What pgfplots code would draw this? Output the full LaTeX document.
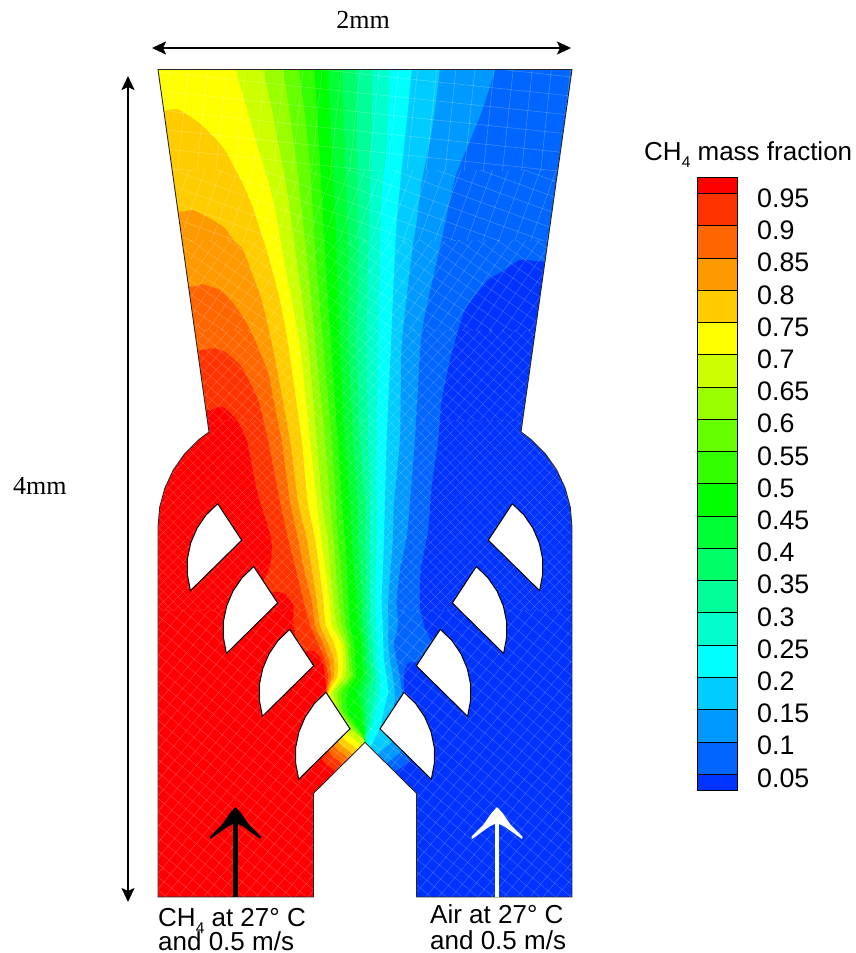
\documentclass[border=0pt]{standalone}
\usepackage{pgfplots}
\pgfplotsset{compat=1.18}
\usepackage{fontspec}
\setmainfont{Liberation Sans}
\newfontfamily\serifsf{Liberation Serif}
\usetikzlibrary{arrows.meta,patterns.meta}
\definecolor{c0}{HTML}{FF0000}\definecolor{c1}{HTML}{FF3300}\definecolor{c2}{HTML}{FF6600}
\definecolor{c3}{HTML}{FF9900}\definecolor{c4}{HTML}{FFCC00}\definecolor{c5}{HTML}{FFFF00}
\definecolor{c6}{HTML}{CCFF00}\definecolor{c7}{HTML}{99FF00}\definecolor{c8}{HTML}{66FF00}
\definecolor{c9}{HTML}{33FF00}\definecolor{c10}{HTML}{00FF00}\definecolor{c11}{HTML}{00FF33}
\definecolor{c12}{HTML}{00FF66}\definecolor{c13}{HTML}{00FF99}\definecolor{c14}{HTML}{00FFCC}
\definecolor{c15}{HTML}{00FFFF}\definecolor{c16}{HTML}{00CCFF}\definecolor{c17}{HTML}{0099FF}
\definecolor{c18}{HTML}{0066FF}\definecolor{c19}{HTML}{0033FF}
\newcommand\band[2]{\addplot[forget plot,draw=none,fill=#1,smooth,tension=0.3] coordinates {#2};}
\newcommand\cbar[2]{\addplot[forget plot,draw=black,line width=0.8pt,fill=#1] coordinates {#2} -- cycle;}
\newcommand\blade[1]{\addplot[forget plot,draw=black,line width=1pt,fill=white] coordinates {#1} -- cycle;}
\newcommand\mesh[5]{\addplot[forget plot,draw=none,opacity=0.26,pattern={Lines[angle=#1,distance=#2pt,line width=#4pt]},pattern color=white] coordinates {#5} -- cycle;
\addplot[forget plot,draw=none,opacity=0.26,pattern={Lines[angle=#3,distance=#2pt,line width=#4pt]},pattern color=white] coordinates {#5} -- cycle;}
\newcommand\lab[3]{\node[anchor=base west,inner sep=0pt,font=\fontsize{26.8}{30}\selectfont] at (axis cs:#1,#2) {#3};}
\newcommand\labb[3]{\node[anchor=base west,inner sep=0pt,font=\fontsize{26}{30}\selectfont] at (axis cs:#1,#2) {#3};}
\newcommand\subfour{\raisebox{-0.28em}{\fontsize{15.5}{16}\selectfont 4}}
\begin{document}
\begin{tikzpicture}
\useasboundingbox (0pt,0pt) rectangle (855pt,953pt);
\begin{axis}[at={(0pt,0pt)},anchor=south west,axis lines=none,scale only axis,width=855pt,height=953pt,
  xmin=0,xmax=855,ymin=0,ymax=953,y dir=reverse,clip=true]
% base band and contour boundaries, painted from left to right
\addplot[forget plot,draw=none,fill=c0] coordinates {(100,40)(700,40)(700,920)(100,920)} -- cycle;
\band{c1}{(100,410)(207.3,410)(216.7,406.7)(225,408)(236.7,420)(246.7,440)(256,486)(260,501.7)(266,520)(271.7,541.7)(271,561.7)(266.7,575)(263.3,581.7)(257,587)(269.3,591)(285,593.3)(293.3,605)(293.3,625)(295.5,634)(292,640)(303.5,650)(315,651.7)(323.3,663.3)(326,686.7)(326,692)(321.7,757.5)(336.7,772.3)(360,800)(360,920)(700,920)(700,40)(100,40)}
\band{c2}{(100,350)(199.3,350)(213,348)(225,351.7)(241.7,366.7)(258.3,400)(268,440)(280,501.7)(288,538)(296,570)(303.3,600)(310,625)(318,643.3)(325,660)(328,676.7)(326.5,693.5)(328.3,750)(343.3,765.7)(360,800)(360,920)(700,920)(700,40)(100,40)}
\band{c3}{(100,286.7)(190,286.7)(201.7,284)(220,290)(233.3,303)(246.7,323)(255,340)(268.3,373.3)(278,423)(281.7,440)(290,501.7)(298,538)(304,570)(311.7,600)(315,625)(323,643.3)(329,660)(331,676.7)(327,694.5)(334.3,745.7)(349.3,759.7)(360,800)(360,920)(700,920)(700,40)(100,40)}
\band{c4}{(100,211.7)(180,211.7)(193.3,210)(213,220)(225,228)(235,241.7)(243.3,250)(261.7,300)(273.3,350)(290,440)(298,501.7)(306.7,538)(312,570)(316.7,600)(320,625)(328,643.3)(334,660)(334,676.7)(327.5,695.5)(338.3,741.7)(353.3,755.7)(360,800)(360,920)(700,920)(700,40)(100,40)}
\band{c5}{(100,110)(165,110)(178.3,109.3)(200,123.3)(216.7,140)(225,150)(235,168.3)(245,188.3)(253.3,208.3)(261.7,235)(266.7,250)(280,300)(288.3,345)(301.7,440)(307.7,501.7)(315,538)(319.5,570)(323.3,600)(325.7,625)(334.3,643.3)(338,660)(337.5,676.7)(328,696.5)(342.7,737.3)(357.7,751.3)(360,800)(360,920)(700,920)(700,40)(100,40)}
\band{c6}{(236,40)(236,69.5)(246.7,108.3)(258.3,148.3)(268.3,181.7)(275,208.3)(282.3,250)(288.3,283)(300,345)(310,440)(316.7,501.7)(321,538)(325.5,570)(329.3,600)(331.7,625)(341,643.3)(343.3,660)(341.5,676.7)(329,698)(346.7,733.3)(361.7,747.3)(362,800)(362,920)(700,920)(700,40)}
\band{c7}{(263.3,40)(263.3,69.5)(271.7,108.3)(280,151.7)(286.7,188.3)(296,255)(308.3,345)(316.7,440)(322,501.7)(327.7,538)(330.5,570)(333.3,600)(336.7,625)(344.3,643.3)(346,660)(345.5,676.7)(334,692)(338,710)(350,729.3)(365,742.3)(365,800)(365,920)(700,920)(700,40)}
\band{c8}{(283.3,40)(283.3,69.5)(290,115)(296.7,165)(306.7,255)(315.7,345)(325,440)(330,501.7)(333.3,538)(336,570)(338.3,600)(341.7,625)(347.3,643.3)(348.3,660)(349.3,676.7)(338,692)(340,710)(353,729)(365,742.5)(365,800)(365,920)(700,920)(700,40)}
\band{c9}{(299,40)(299,69.5)(305,115)(310,165)(315.7,255)(323.3,345)(331.7,440)(336,501.7)(338,538)(341,570)(343.3,600)(346,625)(350,643.3)(351,660)(352.7,676.7)(341.7,692)(343,710)(356,729)(365,742.5)(365,800)(365,920)(700,920)(700,40)}
\band{c10}{(314.3,40)(314.3,69.5)(318.3,131.7)(325,255)(331,345)(337.7,440)(341.7,501.7)(345,538)(347,570)(348.3,600)(350,625)(354,643.3)(355,660)(356,676.7)(347.3,692)(346.7,710)(359,729)(365,742.5)(365,800)(365,920)(700,920)(700,40)}
\band{c11}{(328.3,40)(328.3,69.5)(331,131.7)(336.7,250)(340,345)(345,440)(350,501.7)(351.7,538)(354,570)(356.7,600)(358.3,625)(361.7,643.3)(361.7,660)(363.3,676.7)(356.7,692)(361,710)(363.5,729)(365,742.5)(365,800)(365,920)(700,920)(700,40)}
\band{c12}{(342.3,40)(342.3,69.5)(344.3,131.7)(348.3,250)(348.3,345)(353.3,440)(357.7,501.7)(358,538)(360,570)(361.7,600)(362.7,625)(365,643.3)(366,660)(367,676.7)(363.3,692)(364.5,710)(365,729)(365,742.5)(365,800)(365,920)(700,920)(700,40)}
\band{c13}{(356.7,40)(356.7,69.5)(356.7,131.7)(358.3,250)(356.7,345)(360,440)(365,501.7)(365,538)(365.5,570)(366,600)(366.7,625)(368.3,643.3)(369.3,660)(371.7,676.7)(368.3,692)(367,710)(366.5,729)(365,742.5)(365,800)(365,920)(700,920)(700,40)}
\band{c14}{(372.7,40)(372.7,69.5)(371.7,131.7)(370,181.7)(368.3,250)(366.7,345)(368.3,440)(370,501.7)(370,570)(370.7,625)(372.7,643.3)(373.3,660)(376,676.7)(375,692)(372,710)(369,729)(365,742.5)(365,800)(365,920)(700,920)(700,40)}
\band{c15}{(390,40)(390,69.5)(386.7,148.3)(381.7,198.3)(380,250)(378.3,345)(376.7,440)(376.7,538)(376,570)(375,600)(376,625)(377.3,643.3)(377.3,660)(380,676.7)(380,692)(376,710)(372,729)(367.3,744.7)(366,800)(366,920)(700,920)(700,40)}
\band{c16}{(411.7,40)(411.7,69.5)(406.7,121.7)(401.7,168.3)(396.7,221.7)(395,250)(391,345)(386.7,440)(385,501.7)(384,538)(383,570)(381.7,600)(382.7,625)(383.3,643.3)(384,660)(386.7,676.7)(388.3,692)(384,710)(380,728.7)(370.7,748)(368,800)(368,920)(700,920)(700,40)}
\band{c17}{(440,40)(440,69.5)(431.7,131.7)(421.7,181.7)(416.7,221.7)(412.3,250)(401.7,345)(400,440)(394,501.7)(393,538)(390.5,570)(388.3,600)(388.3,625)(388.3,643.3)(390,660)(393,676.7)(395,692)(394,706)(392.7,740.7)(377.7,755)(372,800)(372,920)(700,920)(700,40)}
\band{c18}{(495,40)(495,69.5)(481.7,111.7)(468.3,145)(455,178.3)(438.3,255)(421.7,333)(415,440)(410,501.7)(406.7,538)(400,570)(396.7,600)(398,625)(394,643.3)(396.7,660)(400,676.7)(401.7,692)(401.7,749.5)(386.7,764)(376,800)(376,920)(700,920)(700,40)}
\band{c19}{(600,261.7)(545,261.7)(520,260)(500,273)(488,280)(465,310)(451.7,353)(441.7,400)(438.3,440)(431.7,486.7)(428.3,530)(420.7,570)(420,606.7)(425,628.3)(432.5,642)(445,652)(426,658)(417,661.5)(408,663)(404.5,672)(404,692.3)(410,758)(395,772.3)(385,800)(385,920)(600,920)(620,600)}
% faint computational mesh
\mesh{84}{19}{-6}{0.55}{(120,60)(610,60)(610,170)(120,170)}
\mesh{70}{15}{-20}{0.5}{(120,170)(610,170)(610,240)(120,240)}
\mesh{55}{11}{-35}{0.42}{(120,240)(610,240)(610,330)(120,330)}
\mesh{48}{8.5}{-42}{0.36}{(120,330)(610,330)(610,420)(120,420)}
\mesh{45}{7}{-45}{0.32}{(120,420)(610,420)(610,610)(120,610)}
\mesh{50}{10}{-40}{0.4}{(120,610)(610,610)(610,900)(120,900)}
% white outside the flow domain
\addplot[forget plot,draw=none,fill=white,even odd rule] coordinates {(0,0)(855,0)(855,953)(0,953)(0,0)
 (158,69.5)(572,69.5)(521,432)(531.3,439.7)(545.3,453.7)(556.7,470)(565.1,488)(570.3,507.2)(572,527)(572,897)(416.5,897)(416.5,793.3)(365,742.3)(313.5,793.3)(313.5,897)(158,897)(158,527)(159.7,507.2)(164.9,488)(173.3,470)(184.7,453.7)(198.7,439.7)(209,432)(158,69.5)(0,0)} -- cycle;
% domain outline
\addplot[forget plot,draw=black!85,line width=0.9pt] coordinates {(158,69.5)(572,69.5)(521,432)(531.3,439.7)(545.3,453.7)(556.7,470)(565.1,488)(570.3,507.2)(572,527)(572,897)(416.5,897)(416.5,793.3)(365,742.3)(313.5,793.3)(313.5,897)(158,897)(158,527)(159.7,507.2)(164.9,488)(173.3,470)(184.7,453.7)(198.7,439.7)(209,432)(158,69.5)} -- cycle;
% blades
\blade{(217.7,503.7)(206.1,514.9)(197,528.2)(190.7,543)(187.4,558.7)(187.4,574.8)(190.4,590.7)(241.7,540.2)}
\blade{(253.7,566.5)(242.1,577.7)(233,591)(226.7,605.8)(223.4,621.5)(223.4,637.6)(226.4,653.5)(277.7,603)}
\blade{(289.7,629.3)(278.1,640.5)(269,653.8)(262.7,668.6)(259.4,684.3)(259.4,700.4)(262.4,716.3)(313.7,665.8)}
\blade{(326,692.3)(314.4,703.5)(305.3,716.8)(299,731.6)(295.7,747.3)(295.7,763.4)(298.7,779.3)(350,728.8)}
\blade{(512.3,503.7)(523.9,514.9)(533,528.2)(539.3,543)(542.6,558.7)(542.6,574.8)(539.6,590.7)(488.3,540.2)}
\blade{(476.3,566.5)(487.9,577.7)(497,591)(503.3,605.8)(506.6,621.5)(506.6,637.6)(503.6,653.5)(452.3,603)}
\blade{(440.3,629.3)(451.9,640.5)(461,653.8)(467.3,668.6)(470.6,684.3)(470.6,700.4)(467.6,716.3)(416.3,665.8)}
\blade{(404,692.3)(415.6,703.5)(424.7,716.8)(431,731.6)(434.3,747.3)(434.3,763.4)(431.3,779.3)(380,728.8)}
% colour bar
\cbar{c0}{(697,177.3)(737,177.3)(737,193.3)(697,193.3)}
\cbar{c1}{(697,193.3)(737,193.3)(737,225.7)(697,225.7)}
\cbar{c2}{(697,225.7)(737,225.7)(737,258)(697,258)}
\cbar{c3}{(697,258)(737,258)(737,290.3)(697,290.3)}
\cbar{c4}{(697,290.3)(737,290.3)(737,322.7)(697,322.7)}
\cbar{c5}{(697,322.7)(737,322.7)(737,354.7)(697,354.7)}
\cbar{c6}{(697,354.7)(737,354.7)(737,387)(697,387)}
\cbar{c7}{(697,387)(737,387)(737,419.3)(697,419.3)}
\cbar{c8}{(697,419.3)(737,419.3)(737,451.7)(697,451.7)}
\cbar{c9}{(697,451.7)(737,451.7)(737,483.7)(697,483.7)}
\cbar{c10}{(697,483.7)(737,483.7)(737,516)(697,516)}
\cbar{c11}{(697,516)(737,516)(737,548.3)(697,548.3)}
\cbar{c12}{(697,548.3)(737,548.3)(737,580.3)(697,580.3)}
\cbar{c13}{(697,580.3)(737,580.3)(737,612.7)(697,612.7)}
\cbar{c14}{(697,612.7)(737,612.7)(737,645.3)(697,645.3)}
\cbar{c15}{(697,645.3)(737,645.3)(737,677.3)(697,677.3)}
\cbar{c16}{(697,677.3)(737,677.3)(737,709.7)(697,709.7)}
\cbar{c17}{(697,709.7)(737,709.7)(737,742)(697,742)}
\cbar{c18}{(697,742)(737,742)(737,774.3)(697,774.3)}
\cbar{c19}{(697,774.3)(737,774.3)(737,790.3)(697,790.3)}
% dimension arrows
\addplot[forget plot,black,line width=2pt,{Stealth[length=14pt,width=13pt,inset=3pt]}-{Stealth[length=14pt,width=13pt,inset=3pt]}] coordinates {(152,48)(571,48)};
\addplot[forget plot,black,line width=2pt,{Stealth[length=14pt,width=13pt,inset=3pt]}-{Stealth[length=14pt,width=13pt,inset=3pt]}] coordinates {(128,76)(128,902)};
% inlet arrows
\addplot[forget plot,black,line width=4.5pt] coordinates {(235.5,897)(235.5,815)};
\addplot[forget plot,draw=none,fill=black] coordinates {(235.5,807)(230,813)(221.7,825)(210,836.7)(210.5,839)(221.7,831)(228,826.5)(233,824)(238,824)(243,826.5)(249.3,831)(260.5,839)(261,836.7)(249.3,825)(241,813)} -- cycle;
\addplot[forget plot,white,line width=4.5pt] coordinates {(497,897)(497,815)};
\addplot[forget plot,draw=none,fill=white] coordinates {(497,807)(491.5,813)(483.2,825)(471.5,836.7)(472,839)(483.2,831)(489.5,826.5)(494.5,824)(499.5,824)(504.5,826.5)(510.8,831)(522,839)(522.5,836.7)(510.8,825)(502.5,813)} -- cycle;
% text
\node[anchor=base,inner sep=0pt,font=\serifsf\fontsize{26}{30}\selectfont] at (axis cs:363,28) {2mm};
\node[anchor=base west,inner sep=0pt,font=\serifsf\fontsize{26}{30}\selectfont] at (axis cs:13,494) {4mm};
\node[anchor=base west,inner sep=0pt,font=\fontsize{26}{30}\selectfont] at (axis cs:644,160) {CH\subfour{} mass fraction};
\lab{757}{207.5}{0.95}\lab{757}{239.7}{0.9}\lab{757}{271.9}{0.85}\lab{757}{304.1}{0.8}
\lab{757}{336.3}{0.75}\lab{757}{368.5}{0.7}\lab{757}{400.7}{0.65}\lab{757}{432.9}{0.6}
\lab{757}{465.1}{0.55}\lab{757}{497.3}{0.5}\lab{757}{529.5}{0.45}\lab{757}{561.7}{0.4}
\lab{757}{593.9}{0.35}\lab{757}{626.1}{0.3}\lab{757}{658.3}{0.25}\lab{757}{690.5}{0.2}
\lab{757}{722.7}{0.15}\lab{757}{754.9}{0.1}\lab{757}{787.1}{0.05}
\labb{158}{926}{CH\subfour{} at 27° C}
\labb{158}{950}{and 0.5 m/s}
\labb{430}{923}{Air at 27° C}
\labb{430}{949}{and 0.5 m/s}
\end{axis}
\end{tikzpicture}
\end{document}
